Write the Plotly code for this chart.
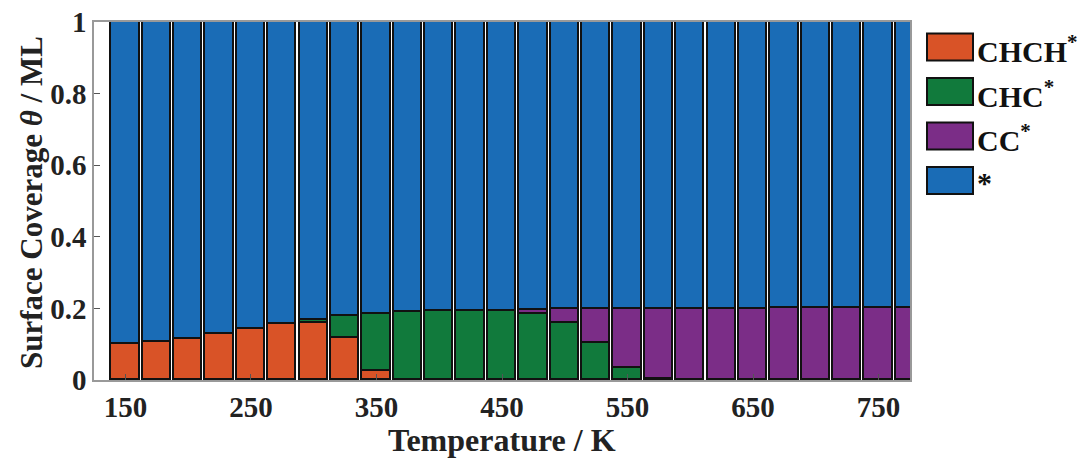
import plotly.graph_objects as go

temperature = [150, 175, 200, 225, 250, 275, 300, 325, 350, 375, 400, 425, 450,
               475, 500, 525, 550, 575, 600, 625, 650, 675, 700, 725, 750, 775]
chch = [0.100, 0.105, 0.114, 0.128, 0.142, 0.156, 0.159, 0.118, 0.025, 0, 0, 0, 0,
        0, 0, 0, 0, 0, 0, 0, 0, 0, 0, 0, 0, 0]
chc = [0, 0, 0, 0, 0, 0, 0.009, 0.061, 0.159, 0.189, 0.192, 0.193, 0.193,
       0.184, 0.160, 0.102, 0.033, 0.004, 0, 0, 0, 0, 0, 0, 0, 0]
cc = [0, 0, 0, 0, 0, 0, 0, 0, 0, 0, 0, 0, 0.001,
      0.012, 0.037, 0.095, 0.165, 0.194, 0.198, 0.199, 0.199, 0.200, 0.200, 0.200, 0.200, 0.200]
free = [0.900, 0.895, 0.886, 0.872, 0.858, 0.844, 0.832, 0.821, 0.816, 0.811, 0.808, 0.807, 0.806,
        0.804, 0.803, 0.803, 0.802, 0.802, 0.802, 0.801, 0.801, 0.800, 0.800, 0.800, 0.800, 0.800]

series_names = ["CHCH<sup>*</sup>", "CHC<sup>*</sup>", "CC<sup>*</sup>", "*"]
series_values = [chch, chc, cc, free]
colors = ["#D95327", "#117A3C", "#7B2D87", "#1A6CB6"]

x_ticks = [150, 250, 350, 450, 550, 650, 750]
y_ticks = [0, 0.2, 0.4, 0.6, 0.8, 1]
y_tick_labels = ["0", "0.2", "0.4", "0.6", "0.8", "1"]

FONT = "Liberation Serif"
L, R, T, B = 94, 910, 22, 380
PW, PH = R - L, B - T


def px(x):
    return (x - L) / PW


def py(y):
    return (B - y) / PH


fig = go.Figure()
for name, vals, col in zip(series_names, series_values, colors):
    fig.add_trace(go.Bar(x=temperature, y=vals, name=name, width=22.5,
                         marker=dict(color=col, line=dict(color="#111111", width=1.8)),
                         showlegend=False))

# custom legend (swatches + labels)
for i, (name, col) in enumerate(zip(series_names, colors)):
    yc = 47 + i * 44.5
    fig.add_shape(type="rect", xref="paper", yref="paper",
                  x0=px(927), x1=px(973), y0=py(yc + 13.5), y1=py(yc - 13.5),
                  fillcolor=col, line=dict(color="#111111", width=2))
    fig.add_annotation(xref="paper", yref="paper", x=px(975), y=py(yc + 2),
                       text="<b>" + name + "</b>",
                       showarrow=False, xanchor="left", yanchor="middle",
                       font=dict(family=FONT, size=30, color="#111111"))

# axis titles
fig.add_annotation(xref="paper", yref="paper", x=px(502), y=py(440),
                   text="<b>Temperature / K</b>", showarrow=False,
                   xanchor="center", yanchor="middle",
                   font=dict(family=FONT, size=32, color="#222222"))
fig.add_annotation(xref="paper", yref="paper", x=px(31), y=py(203),
                   text="<b>Surface Coverage <i>θ</i> / ML</b>", showarrow=False,
                   textangle=-90, xanchor="center", yanchor="middle",
                   font=dict(family=FONT, size=31, color="#222222"))

fig.update_layout(
    barmode="stack",
    width=1080, height=461,
    margin=dict(l=L, r=1080 - R, t=T, b=461 - B, autoexpand=False),
    paper_bgcolor="white", plot_bgcolor="white",
    bargap=0,
    font=dict(family=FONT, size=29, color="#222222"),
)
fig.update_xaxes(range=[125, 775], tickvals=x_ticks,
                 ticktext=["<b>%d</b>" % v for v in x_ticks],
                 ticks="inside", ticklen=6, tickcolor="#555555",
                 showline=True, linecolor="#999999", linewidth=1.5, mirror=True,
                 showgrid=False, zeroline=False, automargin=False,
                 tickfont=dict(size=29, family=FONT, color="#222222"))
fig.update_yaxes(range=[0, 1], tickvals=y_ticks,
                 ticktext=["<b>%s</b>" % t for t in y_tick_labels],
                 ticks="inside", ticklen=6, tickcolor="#555555",
                 showline=True, linecolor="#999999", linewidth=1.5, mirror=True,
                 showgrid=False, zeroline=False, automargin=False,
                 tickfont=dict(size=29, family=FONT, color="#222222"))

fig.write_html("out.html", config={"displayModeBar": False},
               post_script="document.body.style.margin='0';document.body.style.overflow='hidden';")
